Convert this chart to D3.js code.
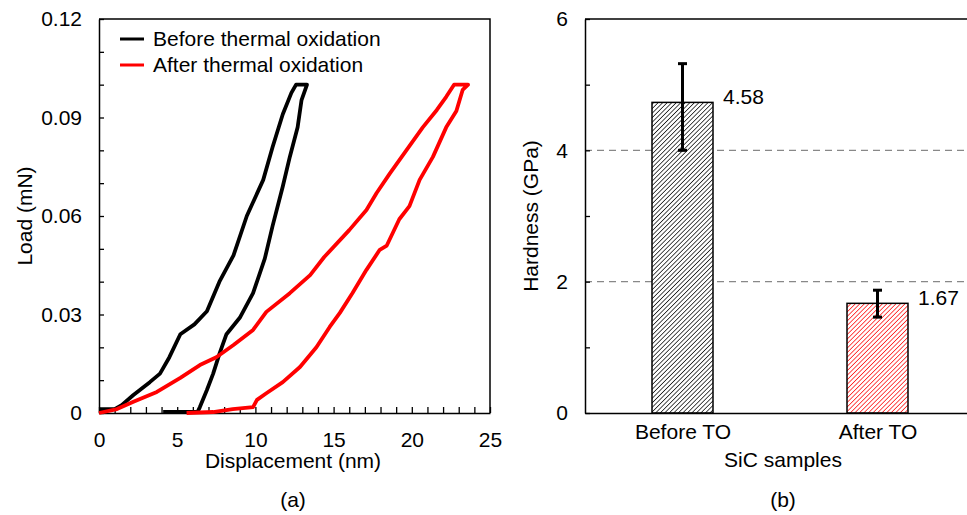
<!doctype html>
<html lang="en">
<head>
<meta charset="utf-8">
<script src="https://d3js.org/d3.v7.min.js"></script>
<title>SiC nanoindentation</title>
<style>
  body { margin: 0; background: #fff; }
  svg { font-family: "Liberation Sans", Arial, sans-serif; }
</style>
</head>
<body>
<svg id="chart" width="967" height="515"></svg>
<script>
// (a) load-displacement curves
const beforeDisp = [0, 1.0, 1.45, 2.2, 3.25, 3.9, 4.5, 5.2, 6.1, 6.9, 7.7, 8.6, 9.45, 10.5, 11.1, 11.75, 12.3, 12.6, 13.3,
                    12.95, 12.7, 12.2, 11.75, 11.1, 10.6, 9.85, 9.0, 8.15, 7.7, 7.3, 6.9, 6.45, 6.3, 4.1];
const beforeLoad = [0.0012, 0.0012, 0.0024, 0.0055, 0.0094, 0.012, 0.017, 0.024, 0.027, 0.031, 0.040, 0.048, 0.060, 0.071, 0.081, 0.091, 0.0975, 0.100, 0.100,
                    0.0953, 0.087, 0.078, 0.069, 0.057, 0.047, 0.0365, 0.029, 0.024, 0.018, 0.012, 0.007, 0.0018, 0.0003, 0.0003];
const afterDisp = [0, 1.15, 2.2, 3.7, 5.2, 6.45, 7.5, 8.6, 9.85, 10.7, 12.2, 13.5, 14.4, 16.0, 17.1, 17.75, 18.6, 19.65, 20.7, 21.6, 22.2, 22.7, 23.6,
                   23.25, 22.85, 22.2, 21.35, 20.5, 19.85, 19.2, 18.4, 17.95, 17.1, 16.2, 15.4, 14.75, 13.9, 12.85, 11.75, 10.7, 10.1, 9.85, 8.55, 7.3, 5.6];
const afterLoad = [0, 0.0012, 0.0034, 0.0064, 0.0107, 0.0146, 0.017, 0.0207, 0.0253, 0.0308, 0.0365, 0.042, 0.0475, 0.0557, 0.0618, 0.067, 0.073, 0.080, 0.087, 0.0923, 0.0963, 0.100, 0.100,
                   0.0984, 0.092, 0.087, 0.078, 0.071, 0.063, 0.059, 0.051, 0.0497, 0.0436, 0.0365, 0.0305, 0.0262, 0.020, 0.014, 0.0094, 0.006, 0.004, 0.0018, 0.0012, 0.0003, 0];
const seriesNames = ["Before thermal oxidation", "After thermal oxidation"];
const seriesColors = ["#000", "#ff0000"];

// (b) hardness bars
const samples = ["Before TO", "After TO"];
const hardness = [4.73, 1.67];
const hardnessLabels = ["4.58", "1.67"];
const errLow = [4.0, 1.46];
const errHigh = [5.32, 1.87];

const svg = d3.select("#chart");
const fs = 21;

// ---------- panel (a) ----------
const a = { left: 99, right: 490, top: 19, bottom: 413 };
const xA = d3.scaleLinear().domain([0, 25]).range([a.left, a.right]);
const yA = d3.scaleLinear().domain([0, 0.12]).range([a.bottom, a.top]);

const near = (v, step) => Math.abs(v / step - Math.round(v / step)) < 1e-6;

const gA = svg.append("g");

gA.append("g")
  .attr("transform", `translate(0,${a.bottom})`)
  .call(d3.axisBottom(xA)
    .tickValues(d3.range(0, 25.01, 1))
    .tickSizeInner(-6).tickSizeOuter(0).tickPadding(19)
    .tickFormat(d => near(d, 5) ? d : ""));

gA.append("g")
  .attr("transform", `translate(${a.left},0)`)
  .call(d3.axisLeft(yA)
    .tickValues(d3.range(0, 0.1201, 0.01))
    .tickSizeInner(-5).tickSizeOuter(0).tickPadding(17)
    .tickFormat(d => near(d, 0.03) ? (d < 1e-9 ? "0" : d3.format(".2f")(d)) : ""));

gA.selectAll(".tick text").attr("font-size", fs).attr("font-family", "Liberation Sans, Arial, sans-serif").attr("fill", "#000");
gA.selectAll(".tick line").attr("stroke", "#000").attr("stroke-width", 1.3);
gA.selectAll(".domain").attr("stroke", "#000").attr("stroke-width", 1.5);

// box frame top/right
gA.append("path")
  .attr("d", `M${a.left},${a.top}H${a.right}V${a.bottom}`)
  .attr("fill", "none").attr("stroke", "#000").attr("stroke-width", 1.5);

const line = d3.line().x(d => xA(d[0])).y(d => yA(d[1]));
const series = [d3.zip(beforeDisp, beforeLoad), d3.zip(afterDisp, afterLoad)];

gA.selectAll("path.curve")
  .data(series)
  .join("path")
  .attr("class", "curve")
  .attr("d", line)
  .attr("fill", "none")
  .attr("stroke", (d, i) => seriesColors[i])
  .attr("stroke-width", 3.8)
  .attr("stroke-linejoin", "round");

const legend = gA.append("g");
seriesNames.forEach((name, i) => {
  const y = 39 + i * 26;
  legend.append("line").attr("x1", 120).attr("x2", 144).attr("y1", y).attr("y2", y)
    .attr("stroke", seriesColors[i]).attr("stroke-width", 3);
  legend.append("text").attr("x", 153).attr("y", y).attr("dy", "0.35em")
    .attr("font-size", fs).text(name);
});

gA.append("text").attr("x", 293).attr("y", 461).attr("dy", "0.35em")
  .attr("text-anchor", "middle").attr("font-size", fs).text("Displacement (nm)");
gA.append("text").attr("transform", `translate(25,${(a.top + a.bottom) / 2}) rotate(-90)`)
  .attr("dy", "0.35em").attr("text-anchor", "middle").attr("font-size", fs).text("Load (mN)");
gA.append("text").attr("x", 293).attr("y", 500).attr("dy", "0.35em")
  .attr("text-anchor", "middle").attr("font-size", fs).text("(a)");

// ---------- panel (b) ----------
const b = { left: 585, right: 975, top: 19, bottom: 413 };
const xB = d3.scalePoint().domain(samples).range([b.left, b.right]).padding(0.5);
const yB = d3.scaleLinear().domain([0, 6]).range([b.bottom, b.top]);
const barW = 61;

const defs = svg.append("defs");
seriesColors.forEach((c, i) => {
  const p = defs.append("pattern").attr("id", "hatch" + i)
    .attr("patternUnits", "userSpaceOnUse").attr("width", 3.2).attr("height", 3.2)
    .attr("patternTransform", "rotate(45)");
  p.append("rect").attr("width", 3.2).attr("height", 3.2).attr("fill", "#fff");
  p.append("line").attr("x1", 0).attr("y1", 0).attr("x2", 0).attr("y2", 3.2)
    .attr("stroke", c).attr("stroke-width", 1.4);
});

const gB = svg.append("g");

// dashed grid
gB.selectAll("line.grid")
  .data([2, 4])
  .join("line")
  .attr("class", "grid")
  .attr("x1", b.left).attr("x2", 967)
  .attr("y1", d => yB(d)).attr("y2", d => yB(d))
  .attr("stroke", "#888").attr("stroke-width", 1.3).attr("stroke-dasharray", "7,5");

gB.selectAll("rect.bar")
  .data(samples)
  .join("rect")
  .attr("class", "bar")
  .attr("x", d => xB(d) - barW / 2)
  .attr("width", barW)
  .attr("y", (d, i) => yB(hardness[i]))
  .attr("height", (d, i) => yB(0) - yB(hardness[i]))
  .attr("fill", (d, i) => `url(#hatch${i})`)
  .attr("stroke", "#000").attr("stroke-width", 1.5);

// error bars
samples.forEach((s, i) => {
  const cx = xB(s);
  const g = gB.append("g").attr("stroke", "#000").attr("stroke-width", 3);
  g.append("line").attr("x1", cx).attr("x2", cx).attr("y1", yB(errLow[i])).attr("y2", yB(errHigh[i]));
  g.append("line").attr("x1", cx - 4.5).attr("x2", cx + 4.5).attr("y1", yB(errLow[i])).attr("y2", yB(errLow[i]));
  g.append("line").attr("x1", cx - 4.5).attr("x2", cx + 4.5).attr("y1", yB(errHigh[i])).attr("y2", yB(errHigh[i]));
  gB.append("text").attr("x", cx + barW / 2 + 10).attr("y", yB(hardness[i]) - 6).attr("dy", "0.35em")
    .attr("font-size", fs).text(hardnessLabels[i]);
});

gB.append("g")
  .attr("transform", `translate(${b.left},0)`)
  .call(d3.axisLeft(yB)
    .tickValues(d3.range(0, 6.01, 1))
    .tickSizeInner(-5).tickSizeOuter(0).tickPadding(17)
    .tickFormat(d => d % 2 === 0 ? d : ""));

gB.append("g")
  .attr("transform", `translate(0,${b.bottom})`)
  .call(d3.axisBottom(xB).tickSize(0).tickPadding(11));

gB.selectAll(".tick text").attr("font-size", fs).attr("font-family", "Liberation Sans, Arial, sans-serif").attr("fill", "#000");
gB.selectAll(".tick line").attr("stroke", "#000").attr("stroke-width", 1.3);
gB.selectAll(".domain").attr("stroke", "#000").attr("stroke-width", 1.5);

gB.append("line").attr("x1", b.left).attr("x2", b.right).attr("y1", b.top).attr("y2", b.top)
  .attr("stroke", "#000").attr("stroke-width", 1.5);

gB.append("text").attr("x", 783).attr("y", 460).attr("dy", "0.35em")
  .attr("text-anchor", "middle").attr("font-size", fs).text("SiC samples");
gB.append("text").attr("transform", `translate(531,${(b.top + b.bottom) / 2}) rotate(-90)`)
  .attr("dy", "0.35em").attr("text-anchor", "middle").attr("font-size", fs).text("Hardness (GPa)");
gB.append("text").attr("x", 783).attr("y", 500).attr("dy", "0.35em")
  .attr("text-anchor", "middle").attr("font-size", fs).text("(b)");
</script>
</body>
</html>
